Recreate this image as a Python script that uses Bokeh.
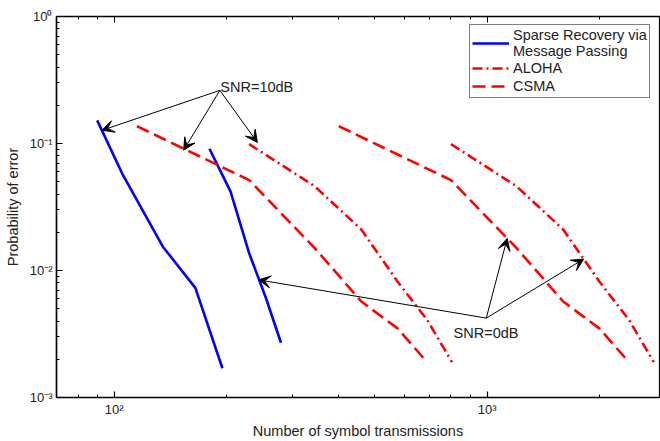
from bokeh.plotting import figure
from bokeh.models import (LogAxis, Arrow, VeeHead, Legend, LegendItem,
                          CustomJSTickFormatter, FixedTicker, Label)
from bokeh.embed import file_html
from bokeh.resources import INLINE

# ---- data ----
sparse_10db_x = [90, 105, 135, 165, 195]
sparse_10db_y = [0.152, 0.058, 0.0154, 0.0073, 0.0017]
sparse_0db_x = [180, 205, 230, 255, 280]
sparse_0db_y = [0.091, 0.042, 0.0137, 0.0061, 0.0027]

aloha_10db_x = [230, 345, 460, 575, 690, 805]
aloha_0db_x = [800, 1200, 1600, 2000, 2400, 2800]
aloha_y = [0.099, 0.046, 0.021, 0.0082, 0.0041, 0.0019]

csma_10db_x = [115, 230, 345, 460, 575, 690]
csma_0db_x = [400, 800, 1200, 1600, 2000, 2400]
csma_y = [0.137, 0.0515, 0.0150, 0.0057, 0.0035, 0.0019]

# ticks
x_major_ticks = [100, 1000]
x_minor_ticks = [70, 80, 90, 200, 300, 400, 500, 600, 700, 800, 900, 2000]
y_major_ticks = [0.001, 0.01, 0.1, 1]
y_minor_ticks = [m * d for d in (0.001, 0.01, 0.1) for m in range(2, 10)]

# annotation anchors (data coordinates)
snr10_origin = (192, 0.262)
snr10_targets_x = [92.7, 153.5, 242]
snr10_targets_y = [0.127, 0.0886, 0.102]
snr10_text = (192.5, 0.277)

snr0_origin = (995, 0.00422)
snr0_targets_x = [243.8, 1132, 1816]
snr0_targets_y = [0.00844, 0.0179, 0.0123]
snr0_text = (813, 0.00322)

FONT = "Liberation Sans"

p = figure(width=660, height=441, x_axis_type="log", y_axis_type="log",
           x_range=(70, 2900), y_range=(1e-3, 1),
           output_backend="svg", toolbar_location=None,
           min_border_left=56, min_border_right=1, min_border_top=16,
           min_border_bottom=43)
p.grid.visible = False
p.outline_line_color = "black"
p.outline_line_width = 1.2

sup_code = """
const e = Math.round(Math.log10(tick));
const m = {'0':'\u2070','1':'\u00b9','2':'\u00b2','3':'\u00b3','4':'\u2074',
           '5':'\u2075','6':'\u2076','7':'\u2077','8':'\u2078','9':'\u2079','-':'\u207b'};
return '10' + String(e).split('').map(c => m[c]).join('');
"""

p.xaxis[0].ticker = FixedTicker(ticks=x_major_ticks, minor_ticks=x_minor_ticks)
p.yaxis[0].ticker = FixedTicker(ticks=y_major_ticks, minor_ticks=y_minor_ticks)

for ax in (p.xaxis[0], p.yaxis[0]):
    ax.formatter = CustomJSTickFormatter(code=sup_code)
    ax.major_tick_in = 6
    ax.major_tick_out = 0
    ax.minor_tick_in = 3
    ax.minor_tick_out = 0
    ax.axis_line_width = 1.5
    ax.major_tick_line_width = 1.2
    ax.minor_tick_line_width = 1
    ax.major_label_text_font = FONT
    ax.major_label_text_font_size = "13px"
    ax.major_label_text_color = "#222222"
    ax.axis_label_text_font = FONT
    ax.axis_label_text_font_size = "14.5px"
    ax.axis_label_text_font_style = "normal"
    ax.axis_label_text_color = "#222222"

p.xaxis.axis_label = "Number of symbol transmissions"
p.yaxis.axis_label = "Probability of error"
p.xaxis.major_label_standoff = 4
p.yaxis.major_label_standoff = 4
p.xaxis.axis_label_standoff = 3
p.yaxis.axis_label_standoff = 6

top = LogAxis(ticker=FixedTicker(ticks=x_major_ticks, minor_ticks=x_minor_ticks),
              formatter=CustomJSTickFormatter(code="return '';"),
              major_tick_in=6, major_tick_out=0, minor_tick_in=3, minor_tick_out=0,
              axis_line_width=1.5, major_label_standoff=0)
p.add_layout(top, "above")

lw = 2.6
b1 = p.line(sparse_10db_x, sparse_10db_y, line_color="#0000ff", line_width=lw)
b2 = p.line(sparse_0db_x, sparse_0db_y, line_color="#0000ff", line_width=lw)
a1 = p.line(aloha_10db_x, aloha_y, line_color="#ff0000", line_width=lw, line_dash="10 4 2 4")
a2 = p.line(aloha_0db_x, aloha_y, line_color="#ff0000", line_width=lw, line_dash="10 4 2 4")
c1 = p.line(csma_10db_x, csma_y, line_color="#ff0000", line_width=lw, line_dash="13 6")
c2 = p.line(csma_0db_x, csma_y, line_color="#ff0000", line_width=lw, line_dash="13 6")

for tx, ty in zip(snr10_targets_x, snr10_targets_y):
    p.add_layout(Arrow(end=VeeHead(size=12, fill_color="black", line_color="black", line_width=1),
                       x_start=snr10_origin[0], y_start=snr10_origin[1],
                       x_end=tx, y_end=ty, line_color="black", line_width=1))
for tx, ty in zip(snr0_targets_x, snr0_targets_y):
    p.add_layout(Arrow(end=VeeHead(size=12, fill_color="black", line_color="black", line_width=1),
                       x_start=snr0_origin[0], y_start=snr0_origin[1],
                       x_end=tx, y_end=ty, line_color="black", line_width=1))

p.add_layout(Label(x=snr10_text[0], y=snr10_text[1], text="SNR=10dB",
                   text_font=FONT, text_font_size="14.5px", text_color="#222222",
                   text_align="left", text_baseline="alphabetic"))
p.add_layout(Label(x=snr0_text[0], y=snr0_text[1], text="SNR=0dB",
                   text_font=FONT, text_font_size="14.5px", text_color="#222222",
                   text_align="left", text_baseline="alphabetic"))

legend = Legend(items=[
    LegendItem(label="Sparse Recovery via\nMessage Passing", renderers=[b1]),
    LegendItem(label="ALOHA", renderers=[a1]),
    LegendItem(label="CSMA", renderers=[c1]),
], location=(413, 299))
legend.label_text_font = FONT
legend.label_text_font_size = "14.5px"
legend.label_text_color = "#222222"
legend.glyph_width = 37
legend.glyph_height = 18
legend.label_height = 18
legend.label_standoff = 4
legend.padding = 2
legend.spacing = 0
legend.margin = 0
legend.border_line_color = "black"
legend.border_line_width = 1.2
legend.background_fill_alpha = 1
p.add_layout(legend)

open("out.html", "w").write(file_html(p, INLINE))
